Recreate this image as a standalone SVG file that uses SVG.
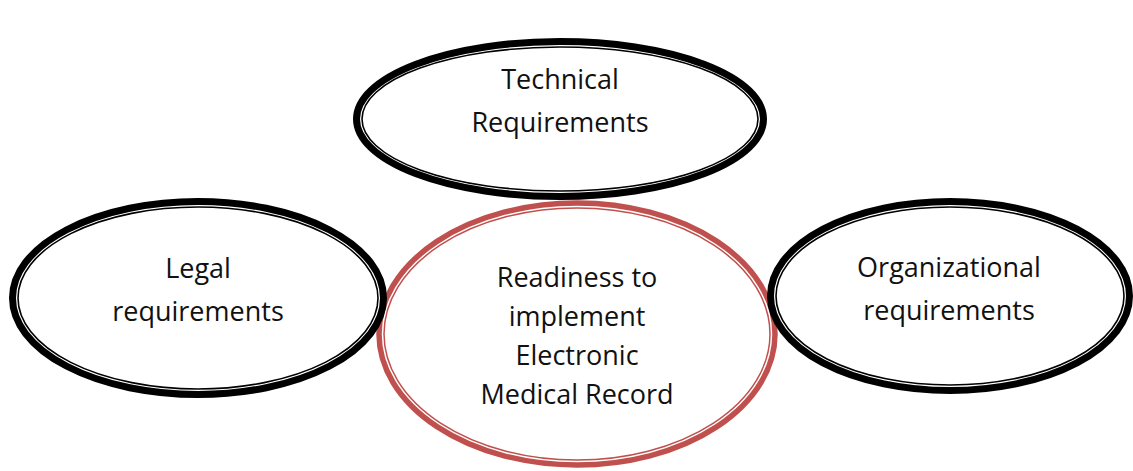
<svg xmlns="http://www.w3.org/2000/svg" width="1133" height="471" viewBox="0 0 1133 471">
  <style>
    .band { fill: none; stroke: #000; stroke-width: 7; }
    .rule { fill: none; stroke: #000; stroke-width: 1.6; }
    .band-red { fill: none; stroke: #c0504d; stroke-width: 5.5; }
    .rule-red { fill: none; stroke: #c0504d; stroke-width: 1.5; }
    .label { font-family: "Open Sans", "Liberation Sans", sans-serif; font-size: 27px; fill: #111; text-anchor: middle; }
  </style>
  <rect width="1133" height="471" fill="#fff"/>

  <!-- central goal, drawn first so the side ovals sit over it -->
  <g id="readiness">
    <ellipse class="band-red" cx="577" cy="334" rx="198" ry="131"/>
    <ellipse class="rule-red" cx="577" cy="334" rx="193" ry="126"/>
    <text class="label" x="577" y="287">Readiness to</text>
    <text class="label" x="577" y="326">implement</text>
    <text class="label" x="577" y="365">Electronic</text>
    <text class="label" x="577" y="404">Medical Record</text>
  </g>

  <g id="technical">
    <ellipse class="band" cx="560" cy="119" rx="203.5" ry="77.5"/>
    <ellipse class="rule" cx="560" cy="119" rx="198" ry="72"/>
    <text class="label" x="560" y="89">Technical</text>
    <text class="label" x="560" y="132">Requirements</text>
  </g>

  <g id="legal">
    <ellipse class="band" cx="198" cy="298" rx="185.5" ry="96.5"/>
    <ellipse class="rule" cx="198" cy="298" rx="180" ry="91"/>
    <text class="label" x="198" y="278">Legal</text>
    <text class="label" x="198" y="321">requirements</text>
  </g>

  <g id="organizational">
    <ellipse class="band" cx="950" cy="296" rx="179.5" ry="94.5"/>
    <ellipse class="rule" cx="950" cy="296" rx="174" ry="89"/>
    <text class="label" x="949" y="277">Organizational</text>
    <text class="label" x="949" y="320">requirements</text>
  </g>
</svg>
